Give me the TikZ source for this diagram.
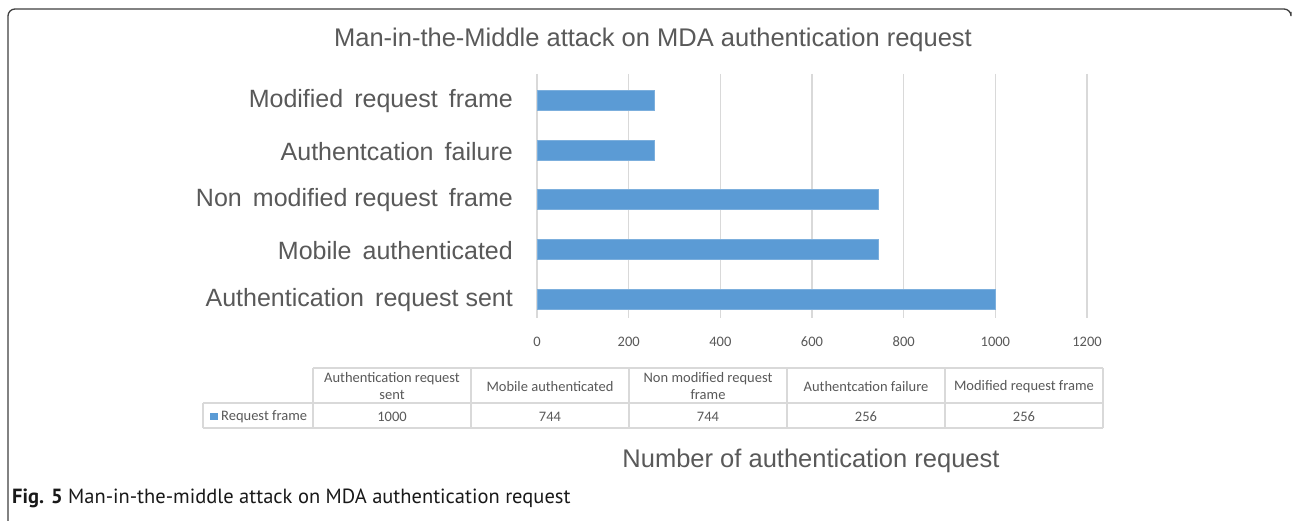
\documentclass[tikz,border=0pt]{standalone}
\usepackage{fontspec}
\setmainfont{Liberation Sans}
\newfontfamily\tablefont{Carlito}
\newfontfamily\captionfont{PT Sans}
\definecolor{barblue}{HTML}{5B9BD5}
\definecolor{gridgray}{HTML}{D9D9D9}
\definecolor{textgray}{HTML}{595959}
\definecolor{cellline}{HTML}{D9D9D9}
\tikzset{
  charttext/.style={text=textgray, inner sep=0pt, font=\fontsize{25.5}{30}\selectfont},
  catlabel/.style={text=textgray, inner sep=0pt, anchor=east, font=\fontsize{25}{30}\selectfont},
  ticklabel/.style={text=textgray, inner sep=0pt, font=\tablefont\fontsize{14.5}{17}\selectfont},
  celltext/.style={text=textgray, inner sep=0pt, align=center, font=\tablefont\fontsize{14.5}{17}\selectfont},
  gridline/.style={draw=gridgray, line width=1.3pt},
  tableline/.style={draw=cellline, line width=1.2pt},
  barfill/.style={fill=barblue, draw=barblue!80!white, line width=0.6pt},
}
\begin{document}
\begin{tikzpicture}[x=1pt,y=-1pt]
\useasboundingbox (0,0) rectangle (1292,521);
\fill[white] (0,0) rectangle (1292,521);

% figure frame
\draw[black!75, line width=1.3pt, rounded corners=7pt] (8,521) -- (8,9) -- (1291,9) -- (1291,12);

% chart title
\node[charttext] (title) at (653,40) {Man-in-the-Middle attack on MDA authentication request};

% vertical grid lines and value axis labels
\foreach \i in {0,...,6} {
  \pgfmathsetmacro{\gx}{537+\i*91.67}
  \pgfmathtruncatemacro{\val}{\i*200}
  \draw[gridline] (\gx,74) -- (\gx,318);
  \node[ticklabel] (tick\i) at (\gx,342) {\val};
}

% bars: value * 0.4584 px
\foreach \name/\yc/\v in {mod/100/256, fail/150/256, nonmod/199/744, mobile/249/744, sent/299/1000} {
  \path[barfill] (537,\yc-10) rectangle (537+\v*0.4584,\yc+10);
}

% category labels
\node[catlabel] (lmod)    at (513,101.5) {Modified\, request\, frame};
\node[catlabel] (lfail)   at (513,151.5) {Authentcation\, failure};
\node[catlabel] (lnonmod) at (513,200.5) {Non\, modified request\, frame};
\node[catlabel] (lmobile) at (513,250.5) {Mobile\, authenticated};
\node[catlabel] (lsent)   at (513,300.5) {Authentication\, request sent};

% data table grid
\draw[tableline] (313,368) -- (1103,368);
\draw[tableline] (203,403) -- (1103,403);
\draw[tableline] (203,428) -- (1103,428);
\draw[tableline] (203,403) -- (203,428);
\foreach \cx in {313,471,629,787,945,1103} {
  \draw[tableline] (\cx,368) -- (\cx,428);
}

% table header
\node[celltext] (h1) at (392,386) {Authentication request\\sent};
\node[celltext] (h2) at (550,387) {Mobile authenticated};
\node[celltext] (h3) at (708,386) {Non modified request\\frame};
\node[celltext] (h4) at (866,387) {Authentcation failure};
\node[celltext] (h5) at (1024,387) {Modified request frame};

% table data row
\fill[barblue] (210,412.5) rectangle (217.5,420);
\node[celltext, anchor=west] (legend) at (221,416.5) {Request frame};
\node[celltext] (d1) at (392,416.5) {1000};
\node[celltext] (d2) at (550,416.5) {744};
\node[celltext] (d3) at (708,416.5) {744};
\node[celltext] (d4) at (866,416.5) {256};
\node[celltext] (d5) at (1024,416.5) {256};

% axis title
\node[charttext] (axistitle) at (811,461) {Number of authentication request};

% caption
\node[anchor=west, inner sep=0pt, text=black!90, font=\captionfont\fontsize{20.5}{24}\selectfont] (caption) at (12,498)
  {\textbf{Fig. 5} Man-in-the-middle attack on MDA authentication request};
\end{tikzpicture}
\end{document}
